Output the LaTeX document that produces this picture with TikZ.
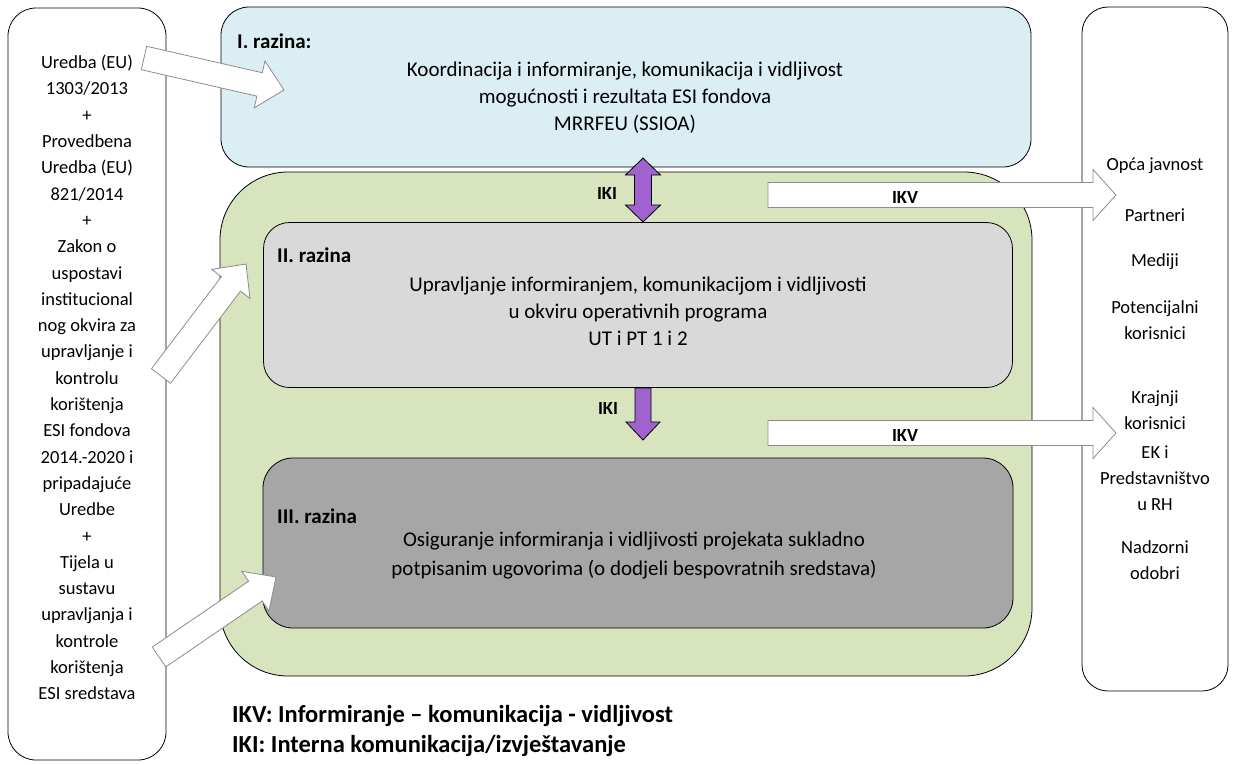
\documentclass[tikz,border=0pt]{standalone}
\usepackage{fontspec}
\setmainfont{Carlito}
\usetikzlibrary{calc}

\definecolor{lvlblue}{HTML}{DBEEF4}
\definecolor{lvlgreen}{HTML}{D7E4BD}
\definecolor{lvlgray}{HTML}{D9D9D9}
\definecolor{lvldark}{HTML}{A6A6A6}
\definecolor{ikipurple}{HTML}{A062CF}
\definecolor{arrgray}{HTML}{8C8C8C}

% block arrow: [style]{tail}{tip}{shaft half}{head half}{head length}
\newcommand{\blockarrow}[6][hollow]{%
  \coordinate (hb) at ($(#3)!#6!(#2)$);
  \draw[#1] ($(#2)!#4!90:(#3)$) -- ($(hb)!#4!90:(#3)$) -- ($(hb)!#5!90:(#3)$) -- (#3)
    -- ($(hb)!#5!-90:(#3)$) -- ($(hb)!#4!-90:(#3)$) -- ($(#2)!#4!-90:(#3)$) -- cycle;}

% double block arrow: {tip a}{tip b}
\newcommand{\dblarrow}[2]{%
  \coordinate (ha) at ($(#1)!17pt!(#2)$);
  \coordinate (hb) at ($(#2)!17pt!(#1)$);
  \draw[iki] (#1) -- ($(ha)!17.5pt!90:(#2)$) -- ($(ha)!8.5pt!90:(#2)$) -- ($(hb)!8.5pt!90:(#2)$)
    -- ($(hb)!17.5pt!90:(#2)$) -- (#2) -- ($(hb)!17.5pt!-90:(#2)$) -- ($(hb)!8.5pt!-90:(#2)$)
    -- ($(ha)!8.5pt!-90:(#2)$) -- ($(ha)!17.5pt!-90:(#2)$) -- cycle;}

\begin{document}
\begin{tikzpicture}[x=1pt,y=-1pt,
  box/.style={draw=black,line width=0.8pt,inner sep=0pt},
  txt/.style={align=center,inner sep=0pt,font=\fontsize{18.5}{26.3}\selectfont},
  bigtxt/.style={align=center,inner sep=0pt,font=\fontsize{21}{27}\selectfont},
  ttl/.style={anchor=west,inner sep=0pt,font=\bfseries\fontsize{21}{24}\selectfont},
  lbl/.style={inner sep=0pt,font=\bfseries\fontsize{18.5}{20}\selectfont},
  legend/.style={anchor=west,inner sep=0pt,font=\bfseries\fontsize{24.5}{28}\selectfont},
  hollow/.style={draw=arrgray,fill=white,line width=0.8pt},
  iki/.style={draw=black,fill=ikipurple,line width=0.8pt}]
\useasboundingbox (0,0) rectangle (1235,764);

% outer boxes
\node[box,rounded corners=28pt,minimum width=158pt,minimum height=752pt] (src) at (87,384) {};
\node[box,rounded corners=26pt,minimum width=146pt,minimum height=684pt] (tgt) at (1155,349) {};
\node[box,fill=lvlblue,rounded corners=28pt,minimum width=810pt,minimum height=160pt] (lvl1) at (626,87) {};
\node[box,fill=lvlgreen,rounded corners=68pt,minimum width=812pt,minimum height=504pt] (zone) at (626,424) {};
\node[box,fill=lvlgray,rounded corners=26pt,minimum width=749pt,minimum height=165pt] (lvl2) at (638,305) {};
\node[box,fill=lvldark,rounded corners=30pt,minimum width=750pt,minimum height=170pt] (lvl3) at (638,543) {};

% level texts
\node[ttl] (lvl1t) at (237,41) {I. razina:};
\node[bigtxt] (lvl1b) at (625,98) {Koordinacija i informiranje, komunikacija i vidljivost\\mogućnosti i rezultata ESI fondova\\MRRFEU (SSIOA)};
\node[ttl] (lvl2t) at (277,255) {II. razina};
\node[bigtxt] (lvl2b) at (638,311) {Upravljanje informiranjem, komunikacijom i vidljivosti\\u okviru operativnih programa\\UT i PT 1 i 2};
\node[ttl] (lvl3t) at (277,516) {III. razina};
\node[bigtxt,font=\fontsize{21}{29}\selectfont] (lvl3b) at (634,556) {Osiguranje informiranja i vidljivosti projekata sukladno\\potpisanim ugovorima (o dodjeli bespovratnih sredstava)};

% legal basis
\node[txt] (law) at (87,377.5) {Uredba (EU)\\1303/2013\\+\\Provedbena\\Uredba (EU)\\821/2014\\+\\Zakon o\\uspostavi\\institucional\\nog okvira za\\upravljanje i\\kontrolu\\korištenja\\ESI fondova\\2014.-2020 i\\pripadajuće\\Uredbe\\+\\Tijela u\\sustavu\\upravljanja i\\kontrole\\korištenja\\ESI sredstava};

% target groups
\node[txt] (pub) at (1155,166) {Opća javnost};
\node[txt] (par) at (1155,215) {Partneri};
\node[txt] (med) at (1155,262) {Mediji};
\node[txt] (pot) at (1155,320) {Potencijalni\\korisnici};
\node[txt] (kra) at (1155,410) {Krajnji\\korisnici};
\node[txt] (ek) at (1155,478) {EK i\\Predstavništvo\\u RH};
\node[txt] (nad) at (1155,560) {Nadzorni\\odobri};

% IKI
\coordinate (iki1a) at (643,158);
\coordinate (iki1b) at (643,222);
\dblarrow{iki1a}{iki1b}
\node[lbl] (iki1) at (607,193) {IKI};
\coordinate (iki2a) at (643,388);
\coordinate (iki2b) at (643,440);
\blockarrow[iki]{iki2a}{iki2b}{8pt}{17pt}{18pt}
\node[lbl] (iki2) at (608,408) {IKI};

% IKV
\coordinate (ikv1a) at (768,195);
\coordinate (ikv1b) at (1116,195);
\blockarrow{ikv1a}{ikv1b}{12.5pt}{25.5pt}{23pt}
\node[lbl] (ikv1) at (905,197) {IKV};
\coordinate (ikv2a) at (768,433);
\coordinate (ikv2b) at (1116,433);
\blockarrow{ikv2a}{ikv2b}{12.5pt}{25.5pt}{23pt}
\node[lbl] (ikv2) at (905,435) {IKV};

% inputs from legal basis
\coordinate (in1a) at (144,58);
\coordinate (in1b) at (284,90);
\blockarrow{in1a}{in1b}{12pt}{24pt}{25pt}
\coordinate (in2a) at (161,376);
\coordinate (in2b) at (246,264);
\blockarrow{in2a}{in2b}{12pt}{24pt}{25pt}
\coordinate (in3a) at (159,657);
\coordinate (in3b) at (276,577);
\blockarrow{in3a}{in3b}{12pt}{24pt}{25pt}

% legend
\node[legend] (leg1) at (232,716) {IKV: Informiranje – komunikacija - vidljivost};
\node[legend] (leg2) at (232,746) {IKI: Interna komunikacija/izvještavanje};
\end{tikzpicture}
\end{document}
